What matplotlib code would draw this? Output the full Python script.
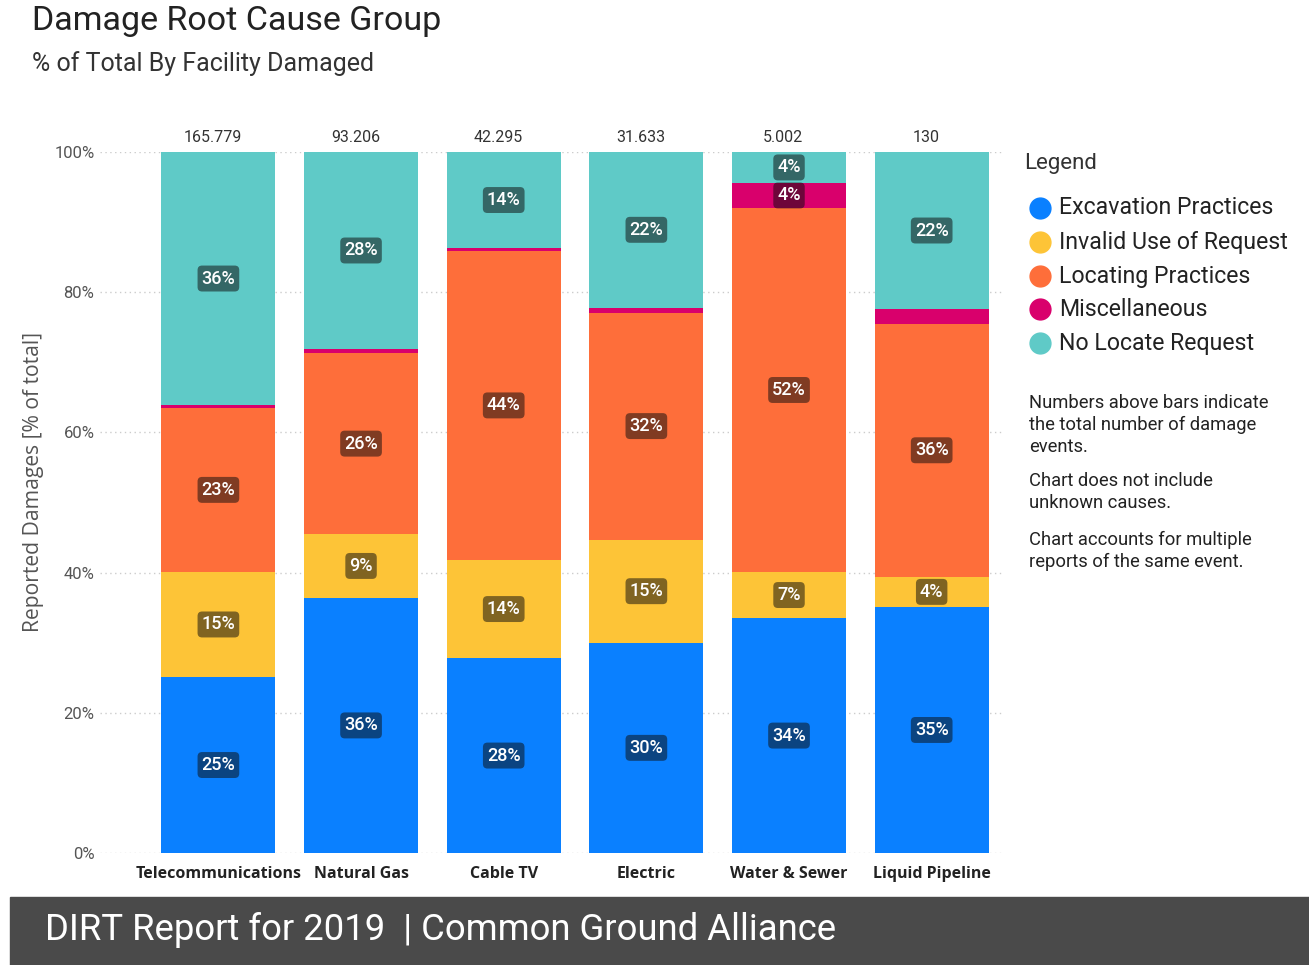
import matplotlib
matplotlib.use("Agg")
import matplotlib.pyplot as plt
from matplotlib.lines import Line2D
from matplotlib.patches import Rectangle
import numpy as np

categories = ["Telecommunications", "Natural Gas", "Cable TV", "Electric", "Water & Sewer", "Liquid Pipeline"]
totals = ["165.779", "93.206", "42.295", "31.633", "5.002", "130"]
series_names = ["Excavation Practices", "Invalid Use of Request", "Locating Practices",
                "Miscellaneous", "No Locate Request"]
excavation = [25.1, 36.4, 27.8, 30.0, 33.5, 35.1]
invalid_use = [15.0, 9.1, 14.0, 14.7, 6.6, 4.3]
locating = [23.4, 25.8, 44.1, 32.4, 51.9, 36.1]
miscellaneous = [0.4, 0.6, 0.4, 0.7, 3.6, 2.1]
no_locate = [36.1, 28.1, 13.7, 22.2, 4.4, 22.4]
colors = ["#0A80FF", "#FDC437", "#FE6E3A", "#D9006C", "#5FCAC7"]
yticks = [0, 20, 40, 60, 80, 100]
notes = ["Numbers above bars indicate\nthe total number of damage\nevents.",
         "Chart does not include\nunknown causes.",
         "Chart accounts for multiple\nreports of the same event."]

W, H = 1309, 965
fig = plt.figure(figsize=(W / 100, H / 100), dpi=100)
fig.patch.set_facecolor("white")

def fx(px):
    return px / W

def fy(py):
    return 1 - py / H

ax = fig.add_axes([fx(100), fy(853), fx(1003) - fx(100), fy(152) - fy(853)])
x = np.arange(len(categories))
series = [excavation, invalid_use, locating, miscellaneous, no_locate]
bottom = np.zeros(len(categories))
for vals, col in zip(series, colors):
    vals = np.array(vals)
    ax.bar(x, vals, bottom=bottom, width=0.8, color=col, zorder=2, linewidth=0)
    for xi, v, b in zip(x, vals, bottom):
        if v >= 3:
            ax.text(xi, b + v / 2, f"{v:.0f}%", ha="center", va="center", color="white",
                    fontsize=13, fontfamily="Roboto", fontweight="medium", zorder=4,
                    bbox=dict(boxstyle="round,pad=0.22,rounding_size=0.25",
                              fc=(0.05, 0.05, 0.05, 0.52), ec="none"))
    bottom += vals

for xi, t in zip(x, totals):
    ax.text(xi - 0.04, 101.0, t, ha="center", va="bottom", fontsize=11.5,
            color="#333333", fontfamily="Roboto")

ax.set_xlim(-0.83, 5.5)
ax.set_ylim(0, 100)
ax.set_yticks(yticks)
ax.set_yticklabels([f"{t}%" for t in yticks], fontsize=12, color="#555555", fontfamily="Roboto")
ax.set_xticks(x)
ax.set_xticklabels(categories, fontsize=11.5, fontweight="bold", fontfamily="Open Sans",
                   color="#222222")
ax.tick_params(axis="both", length=0)
ax.tick_params(axis="y", pad=4)
ax.tick_params(axis="x", pad=9)
for s in ax.spines.values():
    s.set_visible(False)
ax.yaxis.grid(True, linestyle=(0, (1, 2.5)), color="#cccccc", linewidth=1, zorder=0)
ax.set_axisbelow(True)
ax.set_ylabel("Reported Damages [% of total]", fontsize=15.2, color="#555555",
              fontfamily="Open Sans")
ax.yaxis.set_label_coords(-0.062, 0.529)

# Titles
fig.text(fx(32), fy(21), "Damage Root Cause Group", fontsize=24.5, color="#222222",
         fontfamily="Roboto", va="center", ha="left")
fig.text(fx(32), fy(64), "% of Total By Facility Damaged", fontsize=18, color="#333333",
         fontfamily="Roboto", va="center", ha="left")

# Legend
fig.text(fx(1024), fy(163), "Legend", fontsize=16, color="#333333", fontfamily="Roboto",
         va="center", ha="left")
leg_y = [208, 242, 276, 309, 343]
for name, col, yy in zip(series_names, colors, leg_y):
    fig.add_artist(Line2D([fx(1040)], [fy(yy)], marker="o", markersize=15, color=col,
                          linestyle="none", transform=fig.transFigure))
    fig.text(fx(1059), fy(yy), name, fontsize=16.7, color="#222222", fontfamily="Roboto",
             va="center", ha="left")

# Notes
note_y = [394, 472, 531]
for n, yy in zip(notes, note_y):
    fig.text(fx(1029), fy(yy), n, fontsize=13.2, color="#222222", fontfamily="Roboto",
             va="top", ha="left", linespacing=1.28)

# Footer
fig.add_artist(Rectangle((fx(10), 0), 1 - fx(10), fy(897), transform=fig.transFigure,
                         color="#4A4A4A", zorder=0))
fig.text(fx(45), fy(930), "DIRT Report for 2019  | Common Ground Alliance", fontsize=26.3,
         color="white", fontfamily="Roboto", va="center", ha="left")

fig.savefig("out.png", dpi=100)
